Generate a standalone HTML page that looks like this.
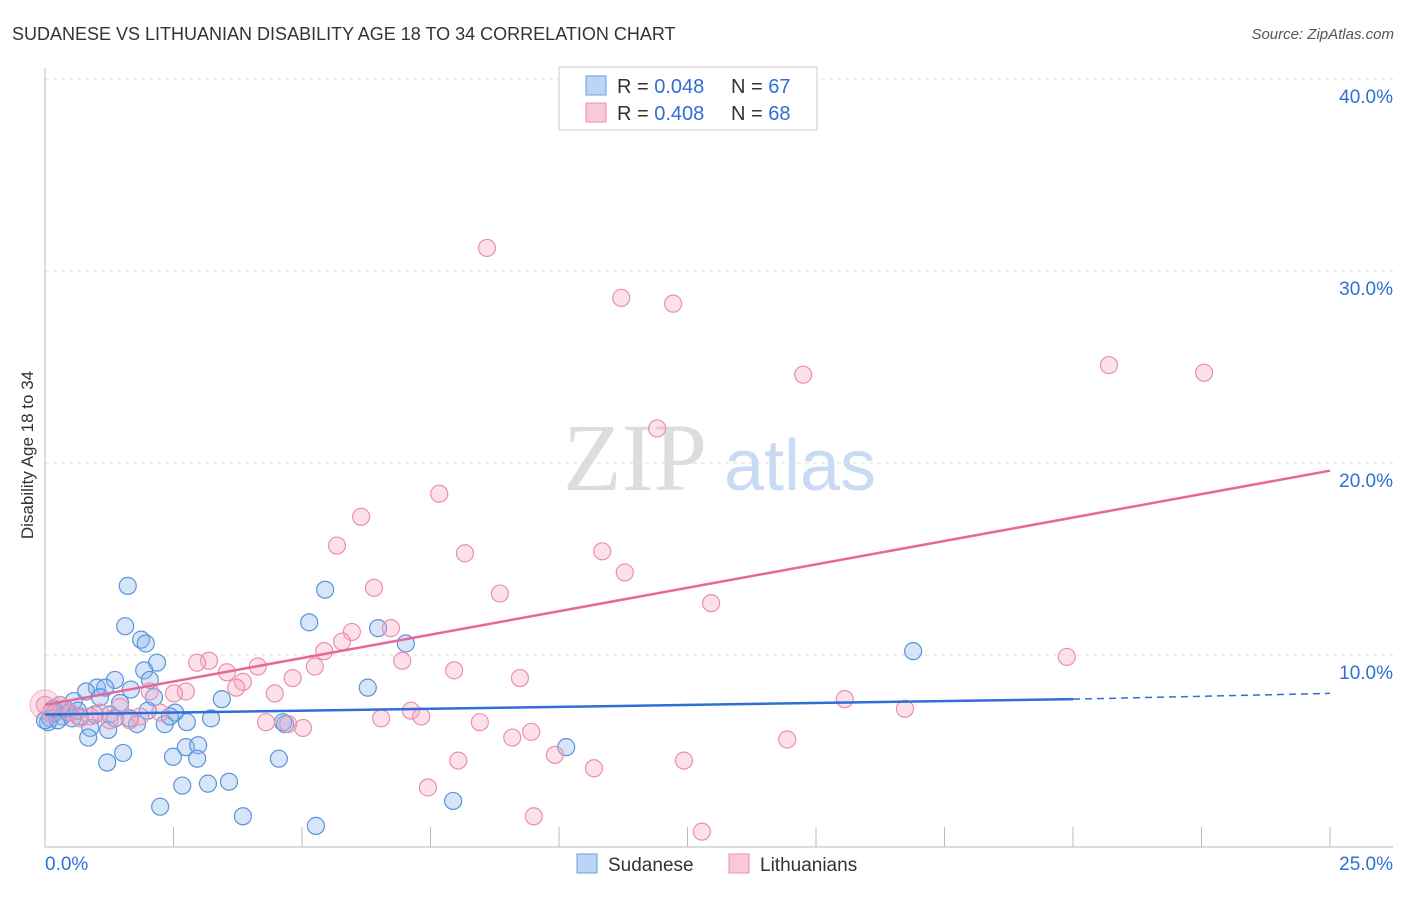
<!DOCTYPE html>
<html><head><meta charset="utf-8"><style>
body{margin:0;background:#fff;font-family:"Liberation Sans",sans-serif}
</style></head><body>
<svg width="1406" height="892" viewBox="0 0 1406 892" xmlns="http://www.w3.org/2000/svg">
<text x="12" y="40" font-size="18" fill="#333">SUDANESE VS LITHUANIAN DISABILITY AGE 18 TO 34 CORRELATION CHART</text>
<text x="1394" y="39" font-size="15" fill="#555" font-style="italic" text-anchor="end">Source: ZipAtlas.com</text>
<text x="33" y="455" font-size="17" fill="#333" text-anchor="middle" transform="rotate(-90 33 455)">Disability Age 18 to 34</text>
<g><text x="635" y="490" font-size="96" fill="#ddd" font-family="Liberation Serif,serif" text-anchor="middle">ZIP</text><text x="800" y="490" font-size="72" fill="#c9dbf3" text-anchor="middle">atlas</text></g>
<g id="grid"></g><g id="axes"></g><g id="pts"></g><g id="lines"></g>
<g>
<rect x="559" y="67" width="258" height="63" fill="#fff" stroke="#ccc"/>
<rect x="586" y="76" width="20" height="19" fill="#bcd4f5" stroke="#6a9ee0"/>
<rect x="586" y="103" width="20" height="19" fill="#f9c9d8" stroke="#ec8fae"/>
<text x="617" y="93" font-size="20" fill="#333">R = <tspan fill="#2e6fd6">0.048</tspan></text>
<text x="731" y="93" font-size="20" fill="#333">N = <tspan fill="#2e6fd6">67</tspan></text>
<text x="617" y="120" font-size="20" fill="#333">R = <tspan fill="#2e6fd6">0.408</tspan></text>
<text x="731" y="120" font-size="20" fill="#333">N = <tspan fill="#2e6fd6">68</tspan></text>
</g>
<g>
<rect x="577" y="854" width="20" height="19" fill="#bcd4f5" stroke="#6a9ee0"/>
<text x="608" y="871" font-size="19" fill="#333">Sudanese</text>
<rect x="729" y="854" width="20" height="19" fill="#f9c9d8" stroke="#ec8fae"/>
<text x="760" y="871" font-size="19" fill="#333">Lithuanians</text>
</g>
</svg>
<script>
const yTicks=[10,20,30,40];
const xTickLabels=["0.0%","25.0%"];
const sudX=[1.61,1.56,1.87,1.96,2.18,1.93,2.04,1.36,1.01,0.80,1.17,1.67,2.12,1.46,1.07,0.56,0.29,1.26,2.53,3.23,3.44,2.76,2.33,1.79,0.88,1.23,0.84,1.52,1.21,2.49,2.74,2.98,2.96,2.67,3.17,3.58,2.24,3.85,5.27,5.45,5.14,6.48,7.02,6.28,4.67,4.55,7.94,10.14,16.89,0.10,0.19,0.33,0.45,0.68,0.06,0.25,0.53,0.39,0.16,0.0,0.64,0.97,1.36,1.65,2.00,2.43,4.63];
const sudY=[13.6,11.5,10.8,10.6,9.6,9.2,8.7,8.7,8.3,8.1,8.3,8.2,7.8,7.5,7.8,7.6,7.4,6.9,7.0,6.7,7.7,6.5,6.4,6.4,6.2,6.1,5.7,4.9,4.4,4.7,5.2,5.3,4.6,3.2,3.3,3.4,2.1,1.6,1.1,13.4,11.7,11.4,10.6,8.3,6.4,4.6,2.4,5.2,10.2,6.7,7.0,6.8,7.0,6.8,6.5,6.6,6.7,7.2,7.2,6.6,7.1,6.9,6.7,6.7,7.1,6.8,6.5];
const litX=[8.60,11.21,12.22,14.75,20.70,22.55,11.91,7.67,6.15,5.68,8.17,10.84,11.28,6.40,8.85,12.96,6.73,5.97,5.78,5.43,6.95,5.25,7.96,3.19,2.96,4.14,3.54,4.82,9.24,3.85,3.72,2.74,2.51,4.47,2.04,19.88,15.56,16.73,7.12,7.32,6.54,4.30,4.73,5.02,8.46,9.46,9.09,14.44,9.92,8.04,12.43,10.68,7.45,9.51,12.78,0.29,0.49,0.68,1.07,1.46,1.85,2.24,1.65,0.88,0.10,1.26,0];
const litY=[31.2,28.6,28.3,24.6,25.1,24.7,21.8,18.4,17.2,15.7,15.3,15.4,14.3,13.5,13.2,12.7,11.4,11.2,10.7,10.2,9.7,9.4,9.2,9.7,9.6,9.4,9.1,8.8,8.8,8.6,8.3,8.1,8.0,8.0,8.1,9.9,7.7,7.2,7.1,6.8,6.7,6.5,6.4,6.2,6.5,6.0,5.7,5.6,4.8,4.5,4.5,4.1,3.1,1.6,0.8,7.4,7.0,6.7,7.0,7.3,6.8,7.0,6.6,6.8,7.0,6.6,7.4];
const sudTrend=[6.9,7.7,8.0]; // at x=0, 20, 25
const litTrend=[7.4,19.6]; // at x=0, 25
const X=v=>45+v*51.4, Y=v=>847-v*19.2;
const NS="http://www.w3.org/2000/svg";
function mk(t,a,p){const e=document.createElementNS(NS,t);for(const k in a)e.setAttribute(k,a[k]);p.appendChild(e);return e;}
const grid=document.getElementById('grid'),axes=document.getElementById('axes'),pts=document.getElementById('pts'),lines=document.getElementById('lines');
yTicks.forEach(t=>{
 const l=mk('line',{x1:45,x2:1393,y1:Y(t),y2:Y(t),stroke:'#ddd','stroke-dasharray':'4,4'},grid);
 
 
 const tx=mk('text',{x:1393,y:Y(t)+24,'font-size':19,fill:'#2e6fd6','text-anchor':'end'},grid);tx.textContent=t.toFixed(1)+'%';
 
 
});
mk('line',{x1:45,x2:45,y1:68,y2:847,stroke:'#bbb'},axes);
mk('line',{x1:45,x2:1393,y1:847,y2:847,stroke:'#bbb'},axes);
for(let i=1;i<=10;i++){const x=X(i*2.5);mk('line',{x1:x,x2:x,y1:827,y2:847,stroke:'#bbb'},axes);}
const t0=mk('text',{x:45,y:870,'font-size':19,fill:'#2e6fd6'},axes);t0.textContent=xTickLabels[0];


const t1=mk('text',{x:1393,y:870,'font-size':19,fill:'#2e6fd6','text-anchor':'end'},axes);t1.textContent=xTickLabels[1];


mk('circle',{cx:X(0),cy:Y(7.4),r:15,fill:'rgba(244,150,180,0.3)',stroke:'rgba(236,120,160,0.5)'},pts);
sudX.forEach((v,i)=>{const c=mk('circle',{cx:X(v),cy:Y(sudY[i]),r:8.5,fill:'rgba(140,180,235,0.35)',stroke:'#5b93dc','stroke-width':1.2},pts);
 
 });
litX.forEach((v,i)=>{const c=mk('circle',{cx:X(v),cy:Y(litY[i]),r:8.5,fill:'rgba(245,170,195,0.35)',stroke:'#ec8fae','stroke-width':1.2},pts);
 
 });
const bl=mk('line',{x1:X(0),y1:Y(sudTrend[0]),x2:X(20),y2:Y(sudTrend[1]),stroke:'#2e6fd6','stroke-width':2.5},lines);


const bd=mk('line',{x1:X(20),y1:Y(sudTrend[1]),x2:X(25),y2:Y(sudTrend[2]),stroke:'#2e6fd6','stroke-width':1.5,'stroke-dasharray':'7,5'},lines);


const pl=mk('line',{x1:X(0),y1:Y(litTrend[0]),x2:X(25),y2:Y(litTrend[1]),stroke:'#e8679a','stroke-width':2.5},lines);


</script>
</body></html>
